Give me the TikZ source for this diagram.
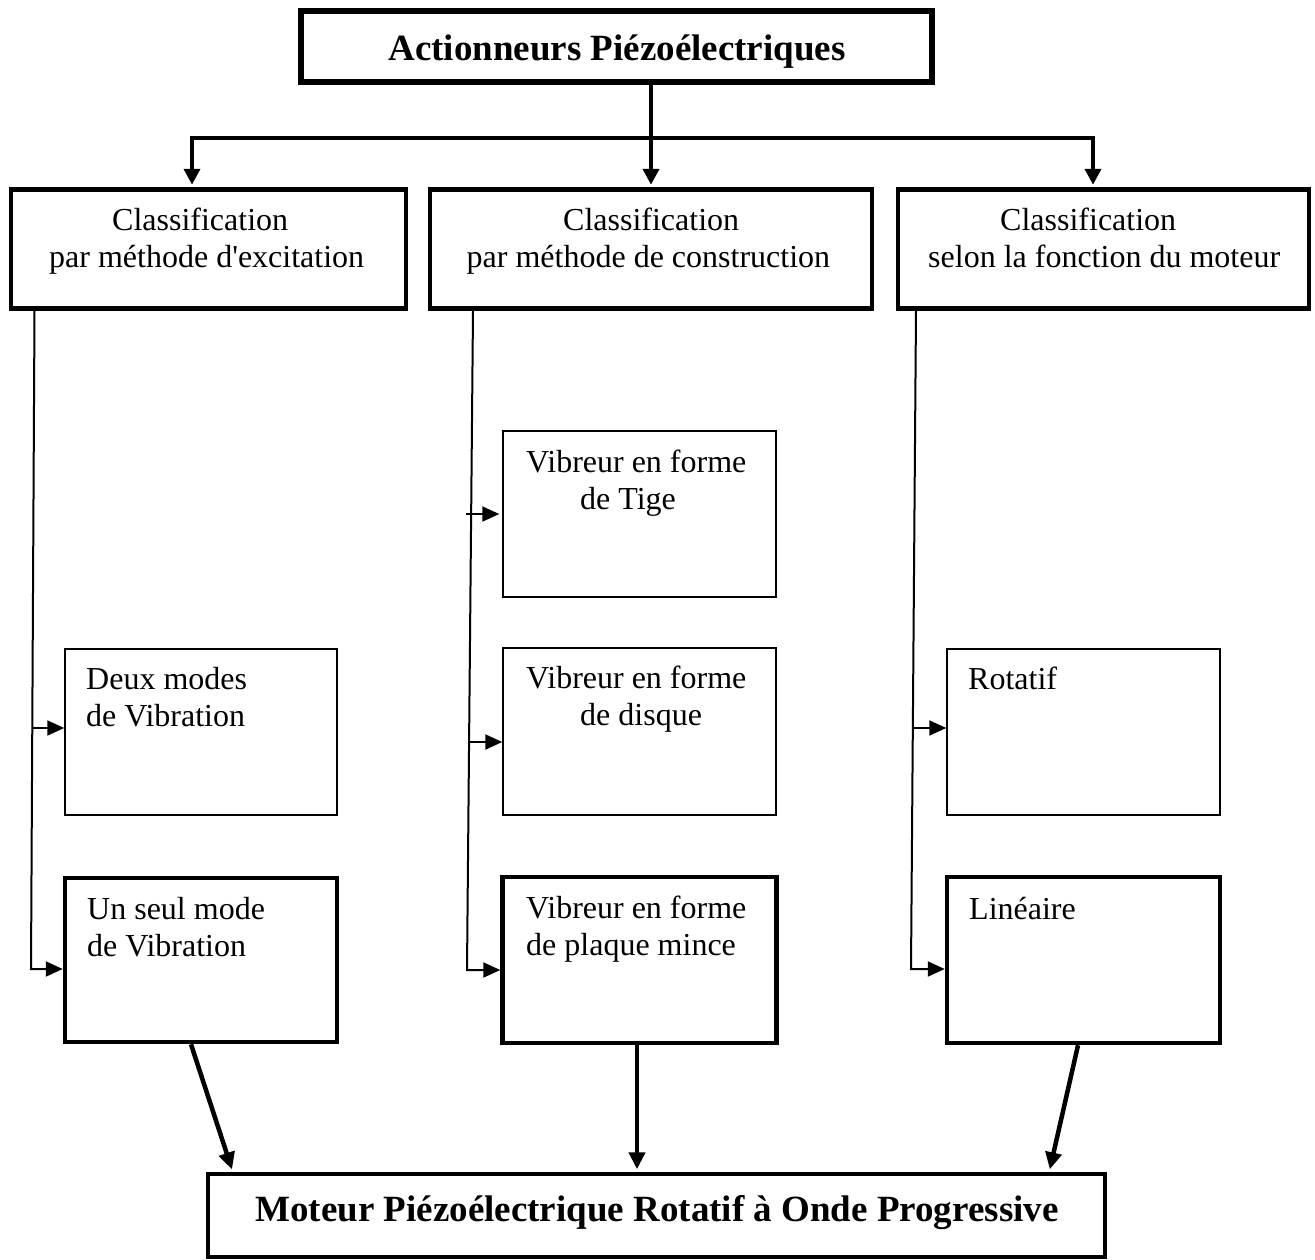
\documentclass[tikz,border=0pt]{standalone}
\usepackage{fontspec}
\setmainfont{Liberation Serif}[Ligatures=TeXOff]
\usetikzlibrary{arrows.meta,calc}
\tikzset{
  boxthick/.style={draw, line width=4.5pt, inner sep=0pt},
  boxtop/.style={draw, line width=6pt, inner sep=0pt},
  boxthin/.style={draw, line width=1.5pt, inner sep=0pt},
  txt/.style={inner sep=0pt, font=\fontsize{32}{37}\selectfont},
  ttl/.style={inner sep=0pt, font=\fontsize{37}{44}\selectfont\bfseries},
  conn/.style={line width=4pt, -{Triangle[length=16pt,width=16pt]}},
  branch/.style={line width=2pt},
  sidearrow/.style={line width=2pt, -{Triangle[length=17pt,width=15pt]}},
  bigarrow/.style={line width=4.5pt, -{Triangle[length=17pt,width=16pt]}, shorten >=2.5pt}
}
\begin{document}
\begin{tikzpicture}[x=1pt,y=-1pt]
\useasboundingbox (0,0) rectangle (1315,1259);

% boxes
\node[boxtop,   minimum width=631pt, minimum height=71pt]  (top)  at (616.5,46.5) {};
\node[boxthick, minimum width=395pt, minimum height=119pt] (cls1) at (208.5,249) {};
\node[boxthick, minimum width=442pt, minimum height=119pt] (cls2) at (651,249) {};
\node[boxthick, minimum width=411pt, minimum height=119pt] (cls3) at (1103.5,249) {};

\node[boxthin,  minimum width=272pt, minimum height=166pt] (b1) at (201,732) {};
\node[boxthick, minimum width=272pt, minimum height=164pt] (b2) at (201,960) {};

\node[boxthin,  minimum width=273pt, minimum height=166pt] (p1) at (639.5,514) {};
\node[boxthin,  minimum width=273pt, minimum height=167pt] (p2) at (639.5,731.5) {};
\node[boxthick, minimum width=274pt, minimum height=166pt] (p3) at (639.5,960) {};

\node[boxthin,  minimum width=273pt, minimum height=166pt] (r1) at (1083.5,732) {};
\node[boxthick, minimum width=273pt, minimum height=166pt] (r2) at (1083.5,960) {};

\node[boxthick, minimum width=897pt, minimum height=83pt]  (mot) at (656.5,1215.5) {};

% texts
\node[ttl, anchor=base] (ttop) at (617,60) {Actionneurs Piézoélectriques};
\node[ttl, anchor=base] (tmot) at (657,1221) {Moteur Piézoélectrique Rotatif à Onde Progressive};

\node[txt, anchor=base west] (tc1) at (49,230)
  {\begin{tabular}[t]{@{}l@{}}\hspace*{63pt}Classification\\par méthode d'excitation\end{tabular}};
\node[txt, anchor=base west] (tc2) at (466.5,230)
  {\begin{tabular}[t]{@{}l@{}}\hspace*{96.5pt}Classification\\par méthode de construction\end{tabular}};
\node[txt, anchor=base west] (tc3) at (928,230)
  {\begin{tabular}[t]{@{}l@{}}\hspace*{72pt}Classification\\selon la fonction du moteur\end{tabular}};

\node[txt, anchor=base west] (tb1) at (86,689)
  {\begin{tabular}[t]{@{}l@{}}Deux modes\\de Vibration\end{tabular}};
\node[txt, anchor=base west] (tb2) at (87,919)
  {\begin{tabular}[t]{@{}l@{}}Un seul mode\\de Vibration\end{tabular}};

\node[txt, anchor=base west] (tp1) at (526,472)
  {\begin{tabular}[t]{@{}l@{}}Vibreur en forme\\\hspace*{54pt}de Tige\end{tabular}};
\node[txt, anchor=base west] (tp2) at (526,688)
  {\begin{tabular}[t]{@{}l@{}}Vibreur en forme\\\hspace*{54pt}de disque\end{tabular}};
\node[txt, anchor=base west] (tp3) at (526,918)
  {\begin{tabular}[t]{@{}l@{}}Vibreur en forme\\de plaque mince\end{tabular}};

\node[txt, anchor=base west] (tr1) at (968,689) {Rotatif};
\node[txt, anchor=base west] (tr2) at (969,919) {Linéaire};

% top connectors
\coordinate (jl) at (192,138);
\coordinate (jr) at (1093,138);
\draw[conn, shorten >=2.5pt] (top.south -| cls2.north) -- (cls2.north);
\draw[line width=4pt, {Triangle[length=16pt,width=16pt]}-{Triangle[length=16pt,width=16pt]},
      shorten <=2.5pt, shorten >=2.5pt, line join=miter]
  (cls1.north -| jl) -- (jl) -- (jr) -- (cls3.north -| jr);

% branch lines
\coordinate (v1t) at (34.5,311);
\coordinate (v1b) at (31,969);
\coordinate (v2t) at (473,311);
\coordinate (v2b) at (467,970);
\coordinate (v3t) at (916,311);
\coordinate (v3b) at (911,969);
\coordinate (a1) at (33,728);
\coordinate (a3) at (466,514);
\coordinate (a4) at (469.5,742);
\coordinate (a6) at (913.5,728);

\draw[sidearrow, line join=miter] (v1t) -- (v1b) -- ([yshift=-9pt]b2.west);
\draw[sidearrow] (a1) -- ([yshift=4pt]b1.west);

\draw[sidearrow, line join=miter] (v2t) -- (v2b) -- ([yshift=-10pt]p3.west);
\draw[sidearrow] (a3) -- ([xshift=-3pt]p1.west);
\draw[sidearrow] (a4) -- ([yshift=-10.5pt]p2.west);

\draw[sidearrow, line join=miter] (v3t) -- (v3b) -- ([yshift=-9pt]r2.west);
\draw[sidearrow] (a6) -- ([yshift=4pt]r1.west);

% bottom arrows
\draw[bigarrow] ([xshift=-10pt]b2.south) -- ([xshift=27pt]mot.north west);
\draw[bigarrow] ([xshift=-2.5pt]p3.south) -- ([xshift=-2.5pt]p3.south |- mot.north);
\draw[bigarrow] ([xshift=-5.5pt]r2.south) -- ([xshift=-58pt]mot.north east);
\end{tikzpicture}
\end{document}
